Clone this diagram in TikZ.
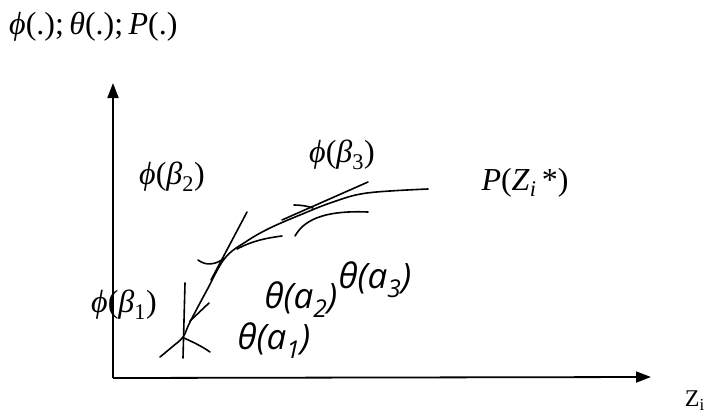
\documentclass[tikz,border=0pt]{standalone}
\usepackage{fontspec}
\setmainfont{Liberation Serif}
\newfontfamily\thfont{Open Sans}
\usetikzlibrary{arrows.meta}
\begin{document}
\begin{tikzpicture}[x=1pt,y=-1pt,
  axis/.style={line width=1.8pt,-{Triangle[length=15pt,width=11pt]}},
  crv/.style={line width=1.6pt,line cap=round},
  serlab/.style={inner sep=0pt,font=\fontsize{32}{36}\selectfont},
  thlab/.style={inner sep=0pt,font=\fontsize{35}{38}\selectfont\thfont\itshape}]
\useasboundingbox (0,0) rectangle (708,415);
% axes
\coordinate (O) at (113,378);
\coordinate (ytop) at (113,83);
\coordinate (xend) at (651,377);
\draw[axis] (O) -- (ytop);
\draw[axis] (O) -- (xend);
% main curve P
\draw[crv] plot[smooth,tension=0.6] coordinates {(160,357) (172,347) (183,337) (190,322) (207,290) (225,258) (247,241) (270,228) (300,215) (333,202) (367,193) (428,189)};
% point 1
\draw[crv] (185,283) -- (183,358);
\draw[crv] (184,338) .. controls (195,343) and (203,347) .. (210,352);
\draw[crv] (190,321) -- (209,303);
% point 2
\draw[crv] (247,212) -- (211,280);
\draw[crv] (198,260) .. controls (206,266) and (215,265) .. (225,258);
\draw[crv] (237,249) .. controls (252,241) and (266,238) .. (282,236);
% point 3
\draw[crv] (368,182) -- (282,220);
\draw[crv] (294,205) .. controls (301,205) and (307,206) .. (313,208);
\draw[crv] (295,236) .. controls (303,222) and (320,210) .. (368,212);
% labels
\node[serlab,anchor=west] (title) at (9,27) {\textit{ϕ}(.);\,\textit{θ}(.);\,\textit{P}(.)};
\node[serlab] (b2) at (172,177) {\textit{ϕ}(\textit{β}\textsubscript{2})};
\node[serlab] (b3) at (342,155) {\textit{ϕ}(\textit{β}\textsubscript{3})};
\node[serlab] (b1) at (124,305) {\textit{ϕ}(\textit{β}\textsubscript{1})};
\node[serlab] (P) at (525,183) {\textit{P}(\textit{Z}\textsubscript{\textit{i}}\,*)};
\node[thlab] (a1) at (274,341) {θ(a\textsubscript{1})};
\node[thlab] (a2) at (301,300) {θ(a\textsubscript{2})};
\node[thlab] (a3) at (375,280) {θ(a\textsubscript{3})};
\node[inner sep=0pt,anchor=east,font=\fontsize{24}{26}\selectfont] (zi) at (705,401) {Z\textsubscript{i}};
\end{tikzpicture}
\end{document}
